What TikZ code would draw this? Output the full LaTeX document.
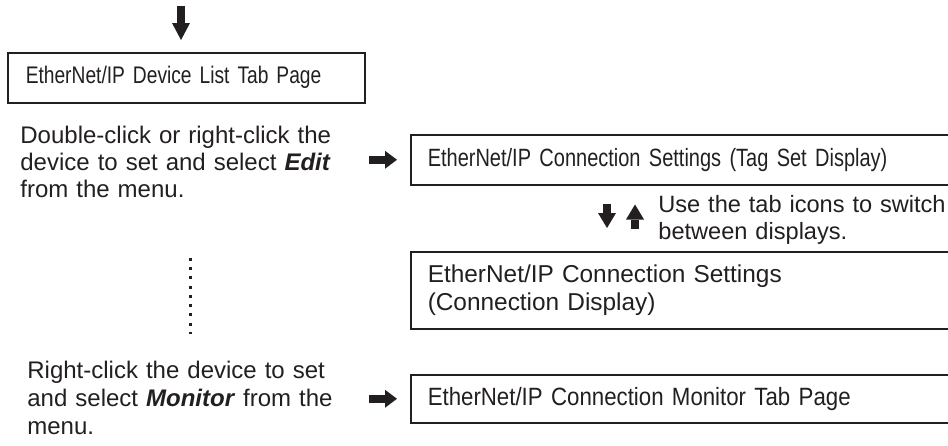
\documentclass[tikz,border=0pt]{standalone}
\usepackage{fontspec}
\setmainfont{Liberation Sans}
\newfontfamily\narrowfont[FakeStretch=0.8]{Liberation Sans}
\newfontfamily\semifont[FakeStretch=0.89]{Liberation Sans}
\usetikzlibrary{arrows.meta}
\definecolor{ink}{HTML}{231F20}

\begin{document}
\begin{tikzpicture}[x=0.5pt, y=-0.5pt,
    screenbox/.style={draw=ink, text=ink, line width=0.75pt, anchor=north west, align=left, inner ysep=0pt},
    widebox/.style={screenbox, minimum width=275pt, text width=258pt, inner xsep=8.5pt},
    note/.style={text=ink, anchor=base west, inner sep=0pt, align=left},
    blockarrow/.style={ink, line width=3.75pt, -{Triangle[width=9pt,length=#1,line width=0pt]}},
    blockarrow/.default=6pt,
    dotline/.style={ink, line width=1.5pt, dash pattern=on 1.5pt off 3.15pt}]
    \useasboundingbox (0,0) rectangle (948,445);
    \clip (0,0) rectangle (948,445);

    % Screens
    \node[screenbox, minimum width=178.5pt, minimum height=25pt, text width=160.5pt, inner xsep=9pt,
          font=\narrowfont\fontsize{12}{14}\selectfont] (devlist) at (7,52) {EtherNet/IP Device List Tab Page};
    \node[widebox, minimum height=25pt, font=\narrowfont\fontsize{12.5}{14}\selectfont] (tagset) at (410,134)
        {EtherNet/IP Connection Settings (Tag Set Display)};
    \node[widebox, minimum height=38.5pt, font=\fontsize{12.2}{14}\selectfont] (conndisp) at (410,251)
        {EtherNet/IP Connection Settings\\(Connection Display)};
    \node[widebox, minimum height=24pt, font=\semifont\fontsize{12.5}{14}\selectfont] (monitor) at (410,374)
        {EtherNet/IP Connection Monitor Tab Page};

    % Operations
    \node[note, text width=174pt, font=\fontsize{12}{13.5}\selectfont] (dbl) at (20,143)
        {Double-click or right-click the\\device to set and select \textbf{\textit{Edit}}\\from the menu.};
    \node[note, text width=170.5pt, font=\fontsize{12}{14}\selectfont] (rclick) at (27,378)
        {Right-click the device to set\\and select \textbf{\textit{Monitor}} from the\\menu.};
    \node[note, text width=150pt, font=\fontsize{11.8}{13.5}\selectfont] (tabnote) at (658,212)
        {Use the tab icons to switch\\between displays.};

    % Arrows
    \coordinate (entry) at (181,6);
    \draw[blockarrow=8.5pt, shorten >=6pt] (entry) -- (entry |- devlist.north);
    \draw[blockarrow, shorten >=6.5pt] (dbl.east |- tagset.west) -- (tagset.west);
    \draw[blockarrow, shorten >=6.5pt] (rclick.east |- monitor.west) -- (monitor.west);
    \draw[blockarrow=7.5pt] ([xshift=98.5pt,yshift=-9pt]tagset.south west) -- ([xshift=98.5pt,yshift=11.5pt]conndisp.north west);
    \draw[blockarrow=7.5pt] ([xshift=112.5pt,yshift=11pt]conndisp.north west) -- ([xshift=112.5pt,yshift=-9.5pt]tagset.south west);

    % Dotted link
    \draw[dotline, shorten <=30pt, shorten >=13.2pt] ([xshift=-2pt]dbl.south) -- ([xshift=-2pt]dbl.south |- rclick.north);
\end{tikzpicture}
\end{document}
